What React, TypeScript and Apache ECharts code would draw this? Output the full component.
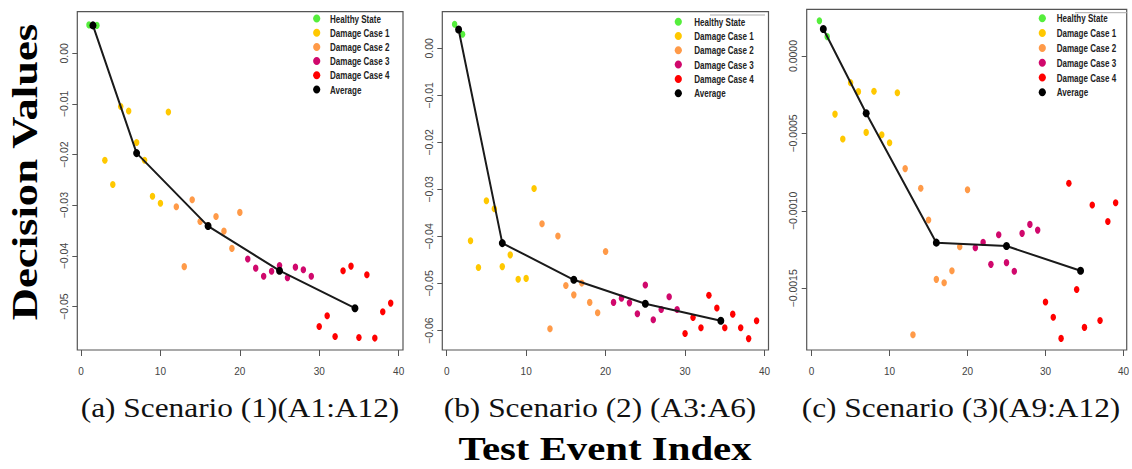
import React, { useEffect, useRef } from "react";
import * as echarts from "echarts";

// ---- Data ----
const X_HEALTHY = [1, 2];
const X_CASE1 = [3, 4, 5, 6, 7, 8, 9, 10, 11];
const X_CASE2 = [12, 13, 14, 15, 16, 17, 18, 19, 20];
const X_CASE3 = [21, 22, 23, 24, 25, 26, 27, 28, 29];
const X_CASE4 = [30, 31, 32, 33, 34, 35, 36, 37, 38, 39];
const X_AVG = [1.5, 7, 16, 25, 34.5];

const X_TICKS = [0, 10, 20, 30, 40];

// Panel (a) Scenario (1)(A1:A12)
const healthyA = [0.0056, 0.0055];
const case1A = [-0.0211, -0.0259, -0.0105, -0.0114, -0.0176, -0.0211, -0.0282, -0.0296, -0.0116];
const case2A = [-0.0303, -0.0421, -0.0289, -0.0332, -0.034, -0.0322, -0.0351, -0.0385, -0.0314];
const case3A = [-0.0406, -0.0424, -0.044, -0.043, -0.0419, -0.0443, -0.0422, -0.0427, -0.044];
const case4A = [-0.0539, -0.0518, -0.0559, -0.0429, -0.042, -0.0561, -0.0437, -0.0562, -0.051, -0.0493];
const avgA = [0.0055, -0.0197, -0.0341, -0.0429, -0.0503];
const yTicksA = [0, -0.01, -0.02, -0.03, -0.04, -0.05];

// Panel (b) Scenario (2) (A3:A6)
const healthyB = [0.0051, 0.003];
const case1B = [-0.0409, -0.0466, -0.0324, -0.0341, -0.0464, -0.0439, -0.0491, -0.0489, -0.0298];
const case2B = [-0.0373, -0.0596, -0.0399, -0.0504, -0.0524, -0.0499, -0.054, -0.0562, -0.0432];
const case3B = [-0.054, -0.0531, -0.0541, -0.0564, -0.0503, -0.0577, -0.0555, -0.0528, -0.0555];
const case4B = [-0.0606, -0.0572, -0.0594, -0.0525, -0.0552, -0.0594, -0.0565, -0.0594, -0.0617, -0.0579];
const avgB = [0.004, -0.0414, -0.0492, -0.0543, -0.0579];
const yTicksB = [0, -0.01, -0.02, -0.03, -0.04, -0.05, -0.06];

// Panel (c) Scenario (3)(A9:A12)
const healthyC = [0.000228, 0.000125];
const case1C = [-0.000375, -0.000536, -0.000172, -0.00023, -0.000493, -0.000228, -0.000508, -0.00056, -0.000237];
const case2C = [-0.000727, -0.001799, -0.000854, -0.001059, -0.001442, -0.001464, -0.001386, -0.001231, -0.000863];
const case3C = [-0.001238, -0.001203, -0.001345, -0.001154, -0.001334, -0.00139, -0.001145, -0.001087, -0.001124];
const case4C = [-0.001588, -0.001687, -0.001823, -0.000822, -0.001507, -0.001752, -0.000962, -0.001707, -0.001068, -0.000947];
const avgC = [0.000174, -0.00037, -0.001205, -0.001227, -0.001386];
const yTicksC = [0, -0.0005, -0.001, -0.0015];

const LEGEND_NAMES = ["Healthy State", "Damage Case 1", "Damage Case 2", "Damage Case 3", "Damage Case 4", "Average"];
const CAPTIONS = ["(a) Scenario (1)(A1:A12)", "(b) Scenario (2) (A3:A6)", "(c) Scenario (3)(A9:A12)"];
const X_TITLE = "Test Event Index";
const Y_TITLE = "Decision Values";

const COLORS = ["#55EE3C", "#FFC800", "#FF9A48", "#D0086C", "#FF0000", "#000000"];

const PANELS = [
  {
    grid: { left: 77.3, top: 11.7, width: 325.7, height: 338.3 },
    xMin: -0.47, xMax: 40.55, yMin: -0.05855, yMax: 0.0082,
    yTicks: yTicksA, dec: 2,
    groups: [healthyA, case1A, case2A, case3A, case4A], avg: avgA,
    legend: { dotX: 316.7, textX: 330, y0: 18.5, step: 14.2 },
    caption: { x: 240 },
  },
  {
    grid: { left: 442.3, top: 11.7, width: 326.2, height: 338.3 },
    xMin: -0.55, xMax: 40.5, yMin: -0.06412, yMax: 0.00778,
    yTicks: yTicksB, dec: 2,
    groups: [healthyB, case1B, case2B, case3B, case4B], avg: avgB,
    legend: { dotX: 678.3, textX: 694.3, y0: 21.7, step: 14.3 },
    caption: { x: 600 },
  },
  {
    grid: { left: 806.7, top: 9.3, width: 323.3, height: 340.7 },
    xMin: -0.63, xMax: 40.42, yMin: -0.001898, yMax: 0.0003016,
    yTicks: yTicksC, dec: 4,
    groups: [healthyC, case1C, case2C, case3C, case4C], avg: avgC,
    legend: { dotX: 1042.3, textX: 1056.7, y0: 18.3, step: 14.8 },
    caption: { x: 961 },
  },
];

const GROUP_X = [X_HEALTHY, X_CASE1, X_CASE2, X_CASE3, X_CASE4];

function pts(xs: number[], ys: number[]) {
  return xs.map((x, i) => [x, ys[i]]);
}

function fmt(dec: number) {
  return (v: number) => {
    if (Math.abs(v) < 1e-12) return (0).toFixed(dec);
    const s = Math.abs(v).toFixed(dec);
    return v < 0 ? "\u2212" + s : s;
  };
}

export default function App() {
  const ref = useRef<HTMLDivElement>(null);
  useEffect(() => {
    if (!ref.current) return;
    const chart = echarts.init(ref.current, undefined, { renderer: "svg" });
    const axisFont = "Liberation Sans, Arial, sans-serif";

    const grids: any[] = [];
    const xAxes: any[] = [];
    const yAxes: any[] = [];
    const series: any[] = [];
    const graphic: any[] = [];

    PANELS.forEach((p, pi) => {
      grids.push({
        ...p.grid,
        show: true,
        borderColor: "#555",
        borderWidth: 1.2,
        backgroundColor: "transparent",
        containLabel: false,
      });
      xAxes.push({
        type: "value",
        gridIndex: pi,
        min: p.xMin,
        max: p.xMax,
        axisLine: { show: false, onZero: false },
        axisTick: { show: true, customValues: X_TICKS, length: 6, lineStyle: { color: "#555", width: 1 } },
        axisLabel: { customValues: X_TICKS, fontSize: 10, color: "#444", margin: 16, fontFamily: axisFont },
        splitLine: { show: false },
      });
      yAxes.push({
        type: "value",
        gridIndex: pi,
        min: p.yMin,
        max: p.yMax,
        axisLine: { show: false, onZero: false },
        axisTick: { show: true, customValues: p.yTicks, length: 5, lineStyle: { color: "#555", width: 1 } },
        axisLabel: {
          customValues: p.yTicks,
          rotate: 90,
          fontSize: 10.5,
          color: "#444",
          margin: 8,
          fontFamily: axisFont,
          formatter: fmt(p.dec),
        },
        splitLine: { show: false },
      });
      p.groups.forEach((ys, gi) => {
        series.push({
          type: "scatter",
          name: LEGEND_NAMES[gi],
          xAxisIndex: pi,
          yAxisIndex: pi,
          data: pts(GROUP_X[gi], ys),
          symbol: "circle",
          symbolSize: [5.5, 7],
          itemStyle: { color: COLORS[gi], opacity: 1 },
          z: 2,
        });
      });
      series.push({
        type: "line",
        name: LEGEND_NAMES[5],
        xAxisIndex: pi,
        yAxisIndex: pi,
        data: pts(X_AVG, p.avg),
        symbol: "circle",
        symbolSize: [7, 8],
        showSymbol: true,
        itemStyle: { color: "#000" },
        lineStyle: { color: "#1a1a1a", width: 2 },
        z: 3,
      });

      // legend
      LEGEND_NAMES.forEach((name, li) => {
        const y = p.legend.y0 + li * p.legend.step;
        graphic.push({
          type: "ellipse",
          shape: { cx: p.legend.dotX, cy: y, rx: 3.6, ry: 4 },
          style: { fill: COLORS[li] },
          z: 10,
        });
        graphic.push({
          type: "text",
          x: p.legend.textX,
          y: y,
          scaleX: 0.7,
          style: {
            text: name,
            fill: "#222",
            font: "bold 11.5px Liberation Sans, Arial, sans-serif",
            textAlign: "left",
            textVerticalAlign: "middle",
            verticalAlign: "middle",
          },
          z: 10,
        });
      });

      // captions
      graphic.push({
        type: "text",
        x: p.caption.x,
        y: 408,
        scaleX: 1.12,
        style: {
          text: CAPTIONS[pi],
          fill: "#111",
          font: "28px Liberation Serif, Times New Roman, serif",
          textAlign: "center",
          textVerticalAlign: "middle",
          verticalAlign: "middle",
        },
      });
    });

    // legend box fragments
    graphic.push({ type: "line", shape: { x1: 710, y1: 15, x2: 765, y2: 15 }, style: { stroke: "#aaa", lineWidth: 1 } });
    graphic.push({ type: "line", shape: { x1: 1075, y1: 12.7, x2: 1127, y2: 12.7 }, style: { stroke: "#aaa", lineWidth: 1 } });

    // axis titles
    graphic.push({
      type: "text",
      x: 605,
      y: 449,
      scaleX: 1.2,
      style: {
        text: X_TITLE,
        fill: "#000",
        font: "bold 34px Liberation Serif, Times New Roman, serif",
        textAlign: "center",
        textVerticalAlign: "middle",
        verticalAlign: "middle",
      },
    });
    graphic.push({
      type: "text",
      x: 25,
      y: 172,
      rotation: Math.PI / 2,
      scaleX: 1.24,
      style: {
        text: Y_TITLE,
        fill: "#000",
        font: "bold 36px Liberation Serif, Times New Roman, serif",
        textAlign: "center",
        textVerticalAlign: "middle",
        verticalAlign: "middle",
      },
    });

    chart.setOption({
      animation: false,
      backgroundColor: "#fff",
      grid: grids,
      xAxis: xAxes,
      yAxis: yAxes,
      series,
      graphic,
    });
    return () => chart.dispose();
  }, []);
  return (
    <div
      ref={ref}
      style={{ position: "fixed", left: 0, top: 0, width: 1132, height: 469 }}
    />
  );
}
